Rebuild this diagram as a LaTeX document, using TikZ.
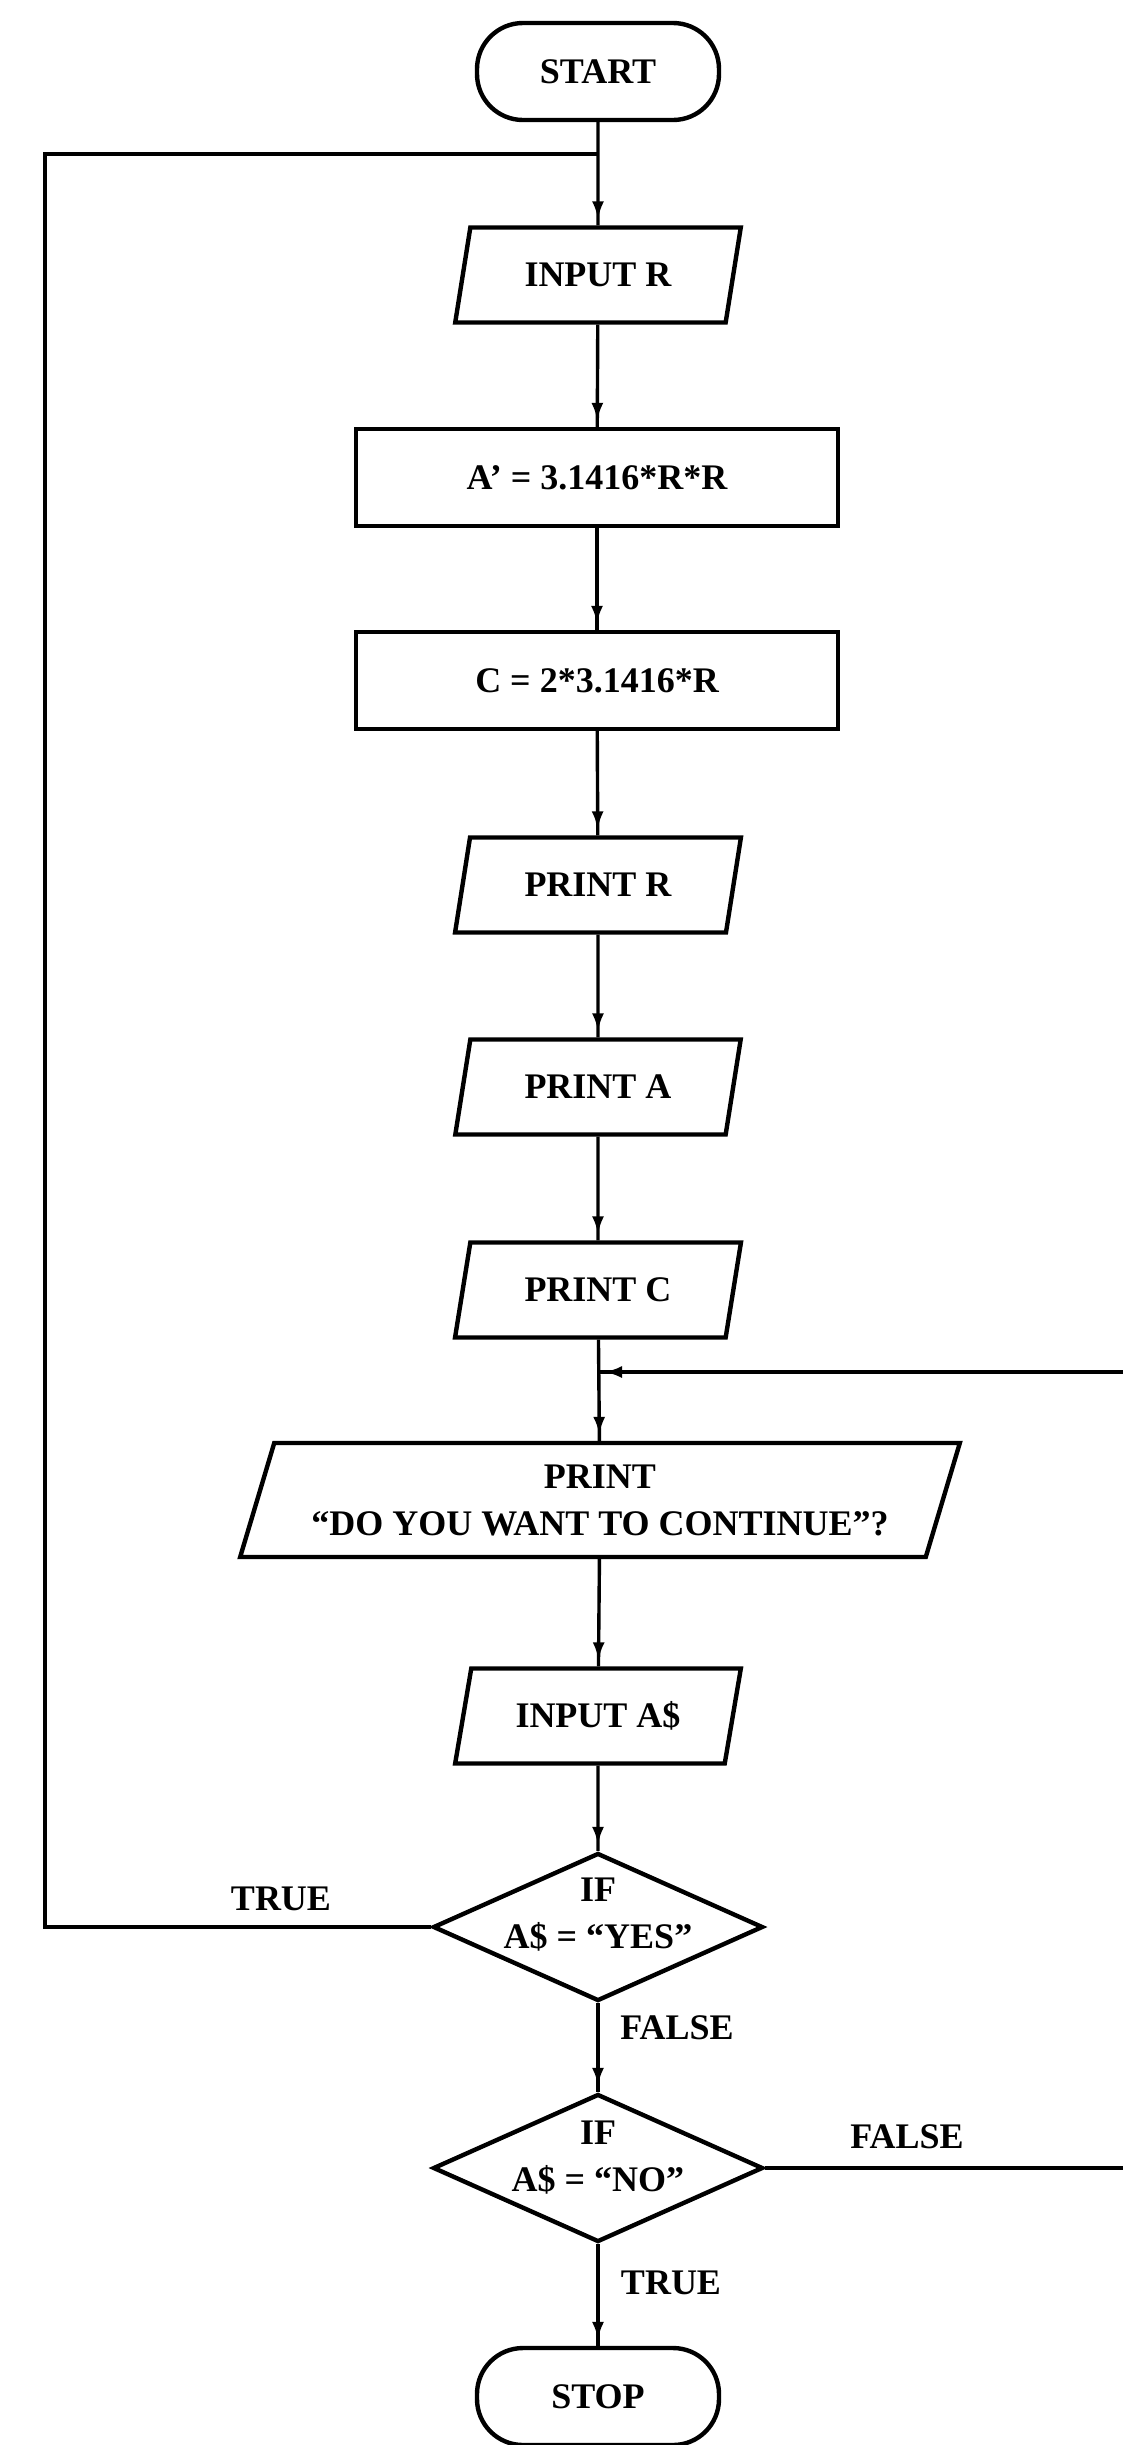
\documentclass[tikz,border=0pt]{standalone}
\usepackage{fontspec}
\setmainfont{Liberation Serif}
\usetikzlibrary{shapes.geometric,arrows.meta,decorations.markings}
\begin{document}
\begin{tikzpicture}[x=1pt,y=-1pt,
  base/.style={draw, line width=4.4pt, inner sep=0pt, font=\bfseries\fontsize{36}{47}\selectfont, align=center},
  term/.style={base, rectangle, rounded corners=46pt, minimum width=242pt, minimum height=97pt},
  proc/.style={base, rectangle, minimum width=482pt, minimum height=97pt},
  io/.style={base, trapezium, trapezium left angle=70, trapezium right angle=110, trapezium stretches=true, minimum width=286pt, minimum height=95pt},
  bigio/.style={io, trapezium left angle=67, trapezium right angle=113, minimum width=725pt, minimum height=114pt},
  decision/.style={base, diamond, minimum width=330pt, minimum height=148pt, aspect=2.23},
  conn/.style={line width=3.4pt},
  arrowed/.style={conn, postaction={decorate}, decoration={markings, mark=at position -6pt with {\arrow{Latex[length=18pt,width=12pt]}}}},
  lbl/.style={font=\bfseries\fontsize{36}{47}\selectfont, inner sep=0pt}
]
\fill[white] (0,0) rectangle (1123,2445);
\clip (0,0) rectangle (1123,2445);

\node[term]  (start) at (598,71.5)  {START};
\node[io]    (inr)   at (598,275)   {INPUT R};
\node[proc]  (area)  at (597,477.5) {A' = 3.1416*R*R};
\node[proc]  (circ)  at (597,680.5) {C = 2*3.1416*R};
\node[io]    (pr)    at (598,885)   {PRINT R};
\node[io]    (pa)    at (598,1087)  {PRINT A};
\node[io]    (pc)    at (598,1290)  {PRINT C};
\node[bigio] (pq)    at (600,1500)  {PRINT\\“DO YOU WANT TO CONTINUE”?};
\node[io]    (ina)   at (598,1716)  {INPUT A\$};
\node[decision, label={[lbl, align=center, yshift=12pt]center:{IF\\A\$ = “YES”}}] (yes) at (598,1927) {};
\node[decision, label={[lbl, align=center, yshift=10pt]center:{IF\\A\$ = “NO”}}]  (no)  at (598,2168) {};
\node[term]  (stop)  at (598,2396.5) {STOP};

\node[lbl] (ltrue1)  at (281,1899) {TRUE};
\node[lbl] (lfalse1) at (677,2028) {FALSE};
\node[lbl] (lfalse2) at (907,2137) {FALSE};
\node[lbl] (ltrue2)  at (671,2283) {TRUE};

\coordinate (j1) at (598,154);
\coordinate (j2) at (598,1372);

\draw[arrowed] (start) -- (inr);
\draw[arrowed] (inr) -- (area);
\draw[arrowed] (area) -- (circ);
\draw[arrowed] (circ) -- (pr);
\draw[arrowed] (pr) -- (pa);
\draw[arrowed] (pa) -- (pc);
\draw[arrowed] (pc) -- (pq);
\draw[arrowed] (pq) -- (ina);
\draw[arrowed] (ina) -- (yes);
\draw[arrowed] (yes) -- (no);
\draw[arrowed] (no) -- (stop);

\draw[conn] (yes.west) -- (45,1927) |- (j1);
\draw[arrowed] (no.east) -- (1140,2168) |- (j2);
\end{tikzpicture}
\end{document}
